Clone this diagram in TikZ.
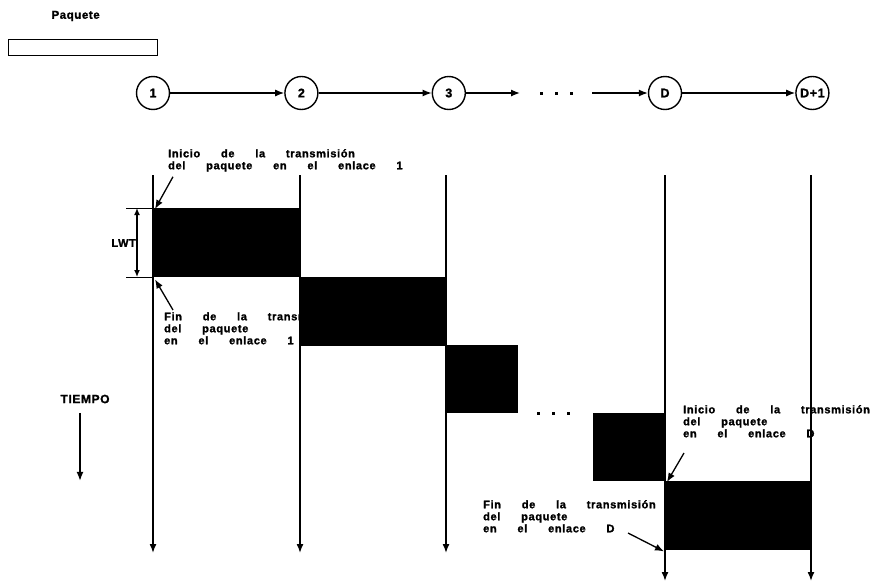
\documentclass[tikz,border=0pt]{standalone}
\usepackage{fontspec}
\newfontfamily\annfont{Liberation Sans}[UprightFont={* Bold}, FakeBold=1.5, LetterSpace=6, WordSpace={5.6,0,0}]
\newfontfamily\lblfont{Liberation Sans}[UprightFont={* Bold}, FakeBold=1.5, LetterSpace=5]
\usetikzlibrary{positioning,arrows.meta}

\begin{document}
\begin{tikzpicture}[%
    x=1pt, y=-1pt,
    >={Latex[length=9pt,width=7pt]},
    every node/.style={font=\lblfont\fontsize{11}{12}\selectfont},
    station/.style={circle, draw, line width=1.4pt, minimum size=33pt, inner sep=0pt,
        font=\lblfont\fontsize{12.5}{13}\selectfont},
    pkt/.style={fill=black, inner sep=0pt, anchor=north west},
    tline/.style={->, line width=1.5pt},
    link/.style={->, line width=1.3pt},
    note/.style={align=left, anchor=north west, inner sep=0pt,
        font=\annfont\fontsize{11}{12}\selectfont}
]
\useasboundingbox (0,0) rectangle (878,584);

% the packet
\node[anchor=west, font=\lblfont\fontsize{11.5}{12}\selectfont] (paq) at (48,16) {Paquete};
\node[draw, line width=1.3pt, minimum width=149pt, minimum height=16pt,
    inner sep=0pt, anchor=north west] (bar) at (8,39) {};

% nodes of the path
\node[station] (n1) at (153,93) {1};
\node[station, right=114pt of n1] (n2) {2};
\node[station, right=113pt of n2] (n3) {3};
\node[station] (nD) at (665,93) {D};
\node[station, right=113pt of nD] (nD1) {D+1};

\coordinate (gapL) at (520,93);
\coordinate (gapR) at (592,93);
\draw[link] (n1) -- (n2);
\draw[link] (n2) -- (n3);
\draw[link] (n3) -- (gapL);
\foreach \x in {541,556,571}
    \fill (\x-1.5,91.5) rectangle ++(3,3);
\draw[link] (gapR) -- (nD);
\draw[link] (nD) -- (nD1);

% time lines under each node
\foreach \x/\n in {153/1, 300/2, 446/3} {
    \coordinate (top\n) at (\x,175);
    \coordinate (bot\n) at (\x,553);
}
\foreach \x/\n in {665/4, 811/5} {
    \coordinate (top\n) at (\x,175);
    \coordinate (bot\n) at (\x,581);
}
\foreach \n in {1,...,5}
    \draw[tline] (top\n) -- (bot\n);

% end of link 1 (partly hidden by the next packet)
\node[note] (finA) at (164,312) {Fin de la transmisión\\del paquete\\en el enlace 1};

% packet on each link
\node[pkt, minimum width=147pt, minimum height=69pt] (b1) at (153,208) {};
\node[pkt, minimum width=146pt, minimum height=69pt] (b2) at (300,277) {};
\node[pkt, minimum width=72pt, minimum height=68pt] (b3) at (446,345) {};
\node[pkt, minimum width=72pt, minimum height=68pt] (b4) at (593,413) {};
\node[pkt, minimum width=146pt, minimum height=69pt] (b5) at (665,481) {};

\foreach \x in {538,553,568}
    \fill (\x-1.5,411.5) rectangle ++(3,3);

% LWT
\coordinate (lwtT) at (137,208);
\coordinate (lwtB) at (137,277);
\draw[line width=0.8pt] (b1.north west) -- ++(-27,0);
\draw[line width=0.8pt] (b1.south west) -- ++(-27,0);
\draw[{Latex[length=7pt,width=6pt]}-{Latex[length=7pt,width=6pt]}, line width=1.3pt] (lwtT) -- (lwtB);
\node[anchor=east, inner sep=0pt] (lwt) at (136,243) {LWT};

% time arrow
\node[anchor=west, font=\lblfont\fontsize{12}{13}\selectfont] (tiempo) at (57,399) {TIEMPO};
\draw[link] ([xshift=23pt,yshift=-6pt]tiempo.south west) -- ++(0,68);

% remarks
\node[note] (iniA) at (168,149) {Inicio de la transmisión\\del paquete en el enlace 1};
\node[note] (iniD) at (683,405) {Inicio de la transmisión\\del paquete\\en el enlace D};
\node[note] (finD) at (483,500) {Fin de la transmisión\\del paquete\\en el enlace D};

\coordinate (iniDtail) at (684,453);
\coordinate (finDtail) at (628,533);
\draw[link] ([xshift=5pt,yshift=-5pt]iniA.south west) -- ([xshift=2pt,yshift=-1pt]b1.north west);
\draw[link] ([xshift=9pt,yshift=2pt]finA.north west) -- ([xshift=2pt,yshift=-2pt]b1.south west);
\draw[link] (iniDtail) -- ([xshift=2pt,yshift=-1pt]b5.north west);
\draw[link] (finDtail) -- ([xshift=-1pt,yshift=-1pt]b5.south west);

\end{tikzpicture}
\end{document}
